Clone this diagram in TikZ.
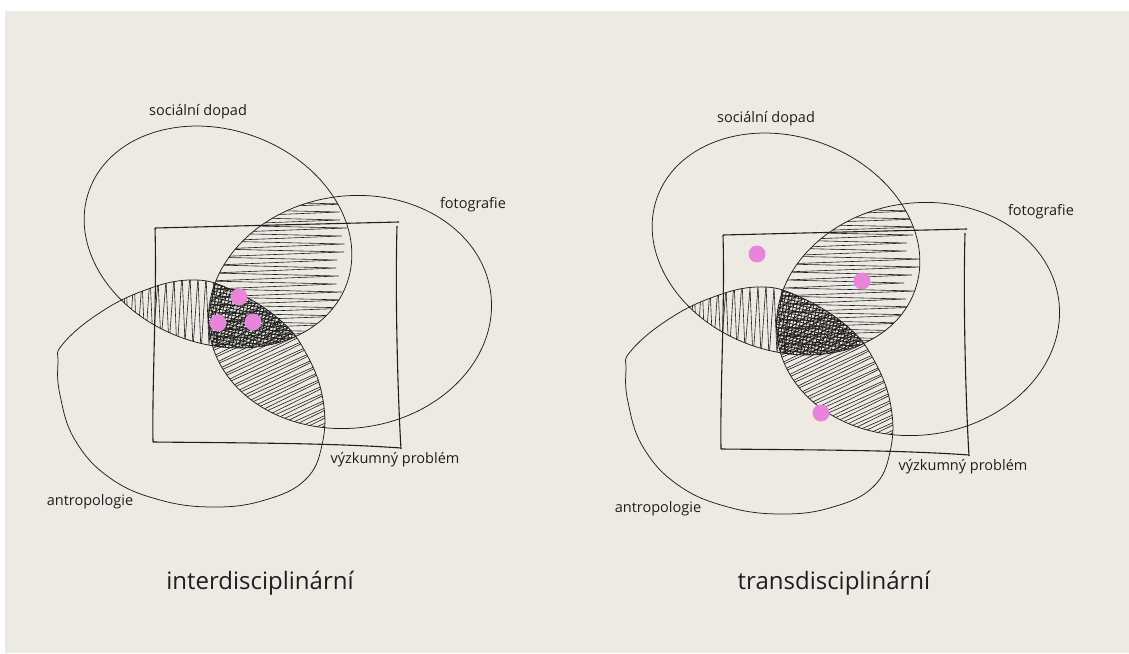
\documentclass[tikz,border=0pt]{standalone}
\usepackage{fontspec}
\setmainfont{Open Sans}
\definecolor{paper}{RGB}{236,234,227}
\definecolor{dotpink}{RGB}{232,132,218}
\definecolor{ink}{RGB}{30,30,30}

\newcommand\clipS{\clip[rotate around={-20:(218,237)}] (218,237) ellipse (137 and 107);}
\newcommand\clipF{\clip[rotate around={8:(350,312)}] (350,312) ellipse (142 and 116);}
\newcommand\pathA{plot[smooth cycle, tension=0.7] coordinates {(62,345) (95,316) (140,292) (190,280) (232,290) (280,320) (307,355) (323,400) (322,445) (305,480) (265,500) (215,507) (160,500) (110,478) (75,440) (60,395) (58,362)}}
\newcommand\clipA{\clip \pathA;}

\newcommand\venn[1]{%
  % hatch: S and F (near horizontal zigzag)
  \begin{scope}\clipS\clipF
    \draw[hatch] (205,193) \foreach \i in {0,...,18}{ -- ({345+9*rand},{196+\i*8}) -- ({212+6*rand},{201+\i*8})};
  \end{scope}
  % hatch: S and A (vertical zigzag)
  \begin{scope}\clipS\clipA
    \draw[hatch] (110,272) \foreach \i in {0,...,13}{ -- ({113+\i*8},{348+6*rand}) -- ({118+\i*8},{276+5*rand})};
  \end{scope}
  % hatch: F and A (diagonal zigzag)
  \begin{scope}\clipF\clipA
    \begin{scope}[rotate around={25:(265,385)}]
      \draw[hatch] (170,310) \foreach \i in {0,...,21}{ -- ({362+8*rand},{313+\i*7}) -- ({180+8*rand},{317+\i*7})};
    \end{scope}
  \end{scope}
  % crosshatch: S, F and A
  \begin{scope}\clipS\clipF\clipA
    \foreach \k in {-24,...,24}{
      \draw[cross, rotate around={78:(245,318)}] (175,{318+\k*3.3}) -- (315,{318+\k*3.3});
      \draw[cross, rotate around={-12:(245,318)}] (175,{318+\k*3.3}) -- (315,{318+\k*3.3});
    }
    \foreach \k in {-14,...,14}{
      \draw[cross, rotate around={35:(245,318)}] (175,{318+\k*5.5}) -- (315,{318+\k*5.5});
    }
  \end{scope}
  % outlines
  \draw[outline, rotate around={-20:(218,237)}] (218,237) ellipse (137 and 107);
  \draw[outline, rotate around={8:(350,312)}] (350,312) ellipse (142 and 116);
  \draw[outline] \pathA;
  \draw[boxline] (155,228) -- (399,222);
  \draw[boxline] (397,226) .. controls (395,300) and (398,400) .. (401,449);
  \draw[boxline] (153,442) .. controls (250,443) and (330,443) .. (401,448);
  \draw[boxline] (155,228) .. controls (157,300) and (152,380) .. (153,442);
  % labels
  \node[lab] (#1-soc) at (198,112) {sociální dopad};
  \node[lab] (#1-foto) at (473,205) {fotografie};
  \node[lab] (#1-vyz) at (395,460) {výzkumný problém};
  \node[lab] (#1-antr) at (90,502) {antropologie};
}

\begin{document}
\begin{tikzpicture}[x=1pt,y=-1pt,
  outline/.style={draw=ink, line width=0.75pt},
  boxline/.style={draw=ink, line width=1.1pt},
  hatch/.style={draw=ink, line width=0.6pt, line join=round},
  cross/.style={draw=ink, line width=0.75pt},
  dot/.style={circle, fill=dotpink, minimum size=17pt, inner sep=0pt},
  lab/.style={font=\fontsize{14.5}{16}\selectfont, text=ink},
  title/.style={font=\fontsize{24}{28}\selectfont, text=ink}]
\pgfmathsetseed{17}
\useasboundingbox (0,0) rectangle (1129,653);
\fill[white] (0,0) rectangle (1129,653);
\fill[paper] (5,11) rectangle (1129,653);

\begin{scope}
  \venn{L}
  \node[dot] (L-d1) at (239,297) {};
  \node[dot] (L-d2) at (218,323) {};
  \node[dot] (L-d3) at (253,322) {};
\end{scope}

\begin{scope}[shift={(568,7)}]
  \venn{R}
\end{scope}
\node[dot] (R-d1) at (757,254) {};
\node[dot] (R-d2) at (862,281) {};
\node[dot] (R-d3) at (821,413) {};

\node[title] (inter) at (260,583) {interdisciplinární};
\node[title] (trans) at (834,583) {transdisciplinární};
\end{tikzpicture}
\end{document}
